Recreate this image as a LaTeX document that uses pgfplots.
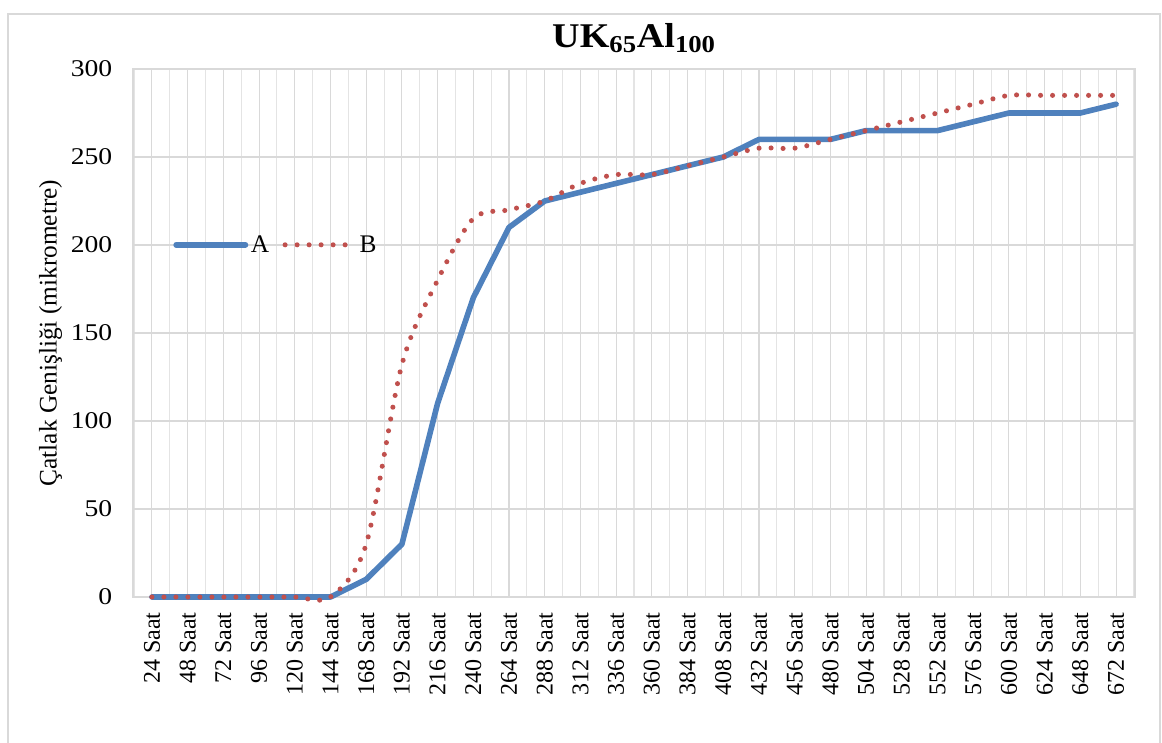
\documentclass[border=0pt]{standalone}
\usepackage{fontspec}
\setmainfont{Liberation Serif}
\usepackage{pgfplots}
\usepackage{pgfplotstable}
\pgfplotsset{compat=1.18}
\definecolor{serA}{HTML}{4F81BD}
\definecolor{serB}{HTML}{C0504D}
\definecolor{gridc}{HTML}{D9D9D9}
\pgfplotstableread{
x A B
0 0 0
1 0 0
2 0 0
3 0 0
4 0 0
5 0 0
6 10 30
7 30 132
8 110 180
9 170 215
10 210 220
11 225 225
12 230 235
13 235 240
14 240 240
15 245 245
16 250 250
17 260 255
18 260 255
19 260 260
20 265 265
21 265 270
22 265 275
23 270 280
24 275 285
25 275 285
26 275 285
27 280 285
}\data
\begin{document}
\begin{tikzpicture}[x=1pt,y=1pt]
\useasboundingbox (0,0) rectangle (871.5,556.5);
\draw[gridc, line width=0.8pt] (6,-2) rectangle (870,546);
\begin{axis}[
  at={(99.75pt,108.75pt)}, anchor=south west,
  scale only axis, width=751.5pt, height=396pt,
  xmin=-0.53, xmax=27.53, ymin=0, ymax=300,
  xtick={0,...,27},
  xticklabels={24 Saat,48 Saat,72 Saat,96 Saat,120 Saat,144 Saat,168 Saat,192 Saat,216 Saat,240 Saat,264 Saat,288 Saat,312 Saat,336 Saat,360 Saat,384 Saat,408 Saat,432 Saat,456 Saat,480 Saat,504 Saat,528 Saat,552 Saat,576 Saat,600 Saat,624 Saat,648 Saat,672 Saat},
  minor xtick={-0.5,0.5,1.5,2.5,3.5,4.5,5.5,6.5,7.5,8.5,9.5,10.5,11.5,12.5,13.5,14.5,15.5,16.5,17.5,18.5,19.5,20.5,21.5,22.5,23.5,24.5,25.5,26.5,27.5},
  ytick={0,50,...,300},
  x tick label style={rotate=90, anchor=east, font=\fontsize{18}{18}\selectfont},
  xticklabel shift=8pt,
  y tick label style={font=\fontsize{18}{18}\selectfont},
  yticklabel shift=12pt,
  yticklabel={\scalebox{1.15}[1]{\pgfmathprintnumber{\tick}}},
  /pgf/number format/assume math mode=true,
  major tick length=0pt, minor tick length=0pt,
  xmajorgrids, xminorgrids, ymajorgrids,
  grid style={gridc, line width=0.8pt},
  minor grid style={gridc!70, line width=0.8pt},
  axis line style={gridc, line width=0.8pt},
  ylabel={Çatlak Genişliği (mikrometre)},
  ylabel style={font=\fontsize{19}{19}\selectfont, at={(axis description cs:-0.066,0.5)}},
  title={\scalebox{1.1}[1]{\textbf{UK\textsubscript{65}Al\textsubscript{100}}}},
  title style={font=\fontsize{26}{26}\selectfont, at={(axis description cs:0.5,1.0)}, anchor=base, yshift=10pt},
  legend style={at={(axis description cs:0.036,0.667)}, anchor=west, draw=none, fill=none,
    font=\fontsize{19}{19}\selectfont, legend columns=2,
    /tikz/every even column/.append style={column sep=8pt}},
  legend image code/.code={\draw[#1] (0pt,0pt) -- (52pt,0pt);},
  clip=false,
]
\addplot[serA, line width=4.2pt, line join=round, line cap=round] table[x=x,y=A]{\data};
\addlegendentry{A}
\addplot[serB, line width=3.8pt, line cap=round, dash pattern=on 0pt off 9pt, smooth, tension=0.5] table[x=x,y=B]{\data};
\addlegendentry{B}
\end{axis}
\end{tikzpicture}
\end{document}
